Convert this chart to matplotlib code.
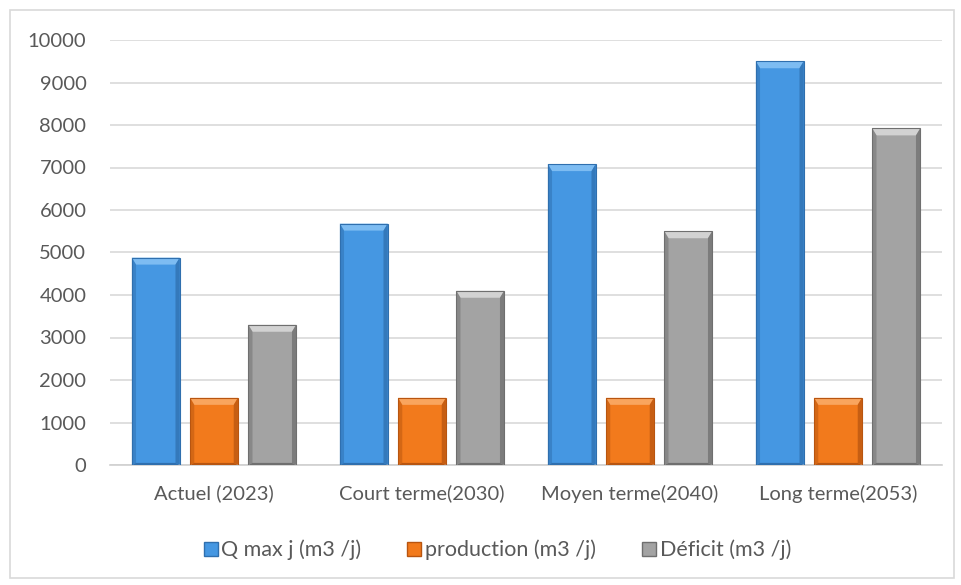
import numpy as np
import matplotlib
matplotlib.use("Agg")
import matplotlib.pyplot as plt
from matplotlib.patches import Polygon, Rectangle
from matplotlib.lines import Line2D

plt.rcParams['font.family'] = ['Lato', 'DejaVu Sans']

categories = ["Actuel (2023)", "Court terme(2030)", "Moyen terme(2040)", "Long terme(2053)"]
series_names = ["Q max j (m3 /j)", "production (m3 /j)", "Déficit (m3 /j)"]
q_max = [4880, 5680, 7080, 9500]
production = [1580, 1580, 1580, 1580]
deficit = [3300, 4100, 5500, 7920]

# face, light bevel, dark bevel
palette = [("#4597e2", "#7dbcf2", "#2f6fae"),
           ("#f27a1c", "#f9a55e", "#b85510"),
           ("#a3a3a3", "#d2d2d2", "#6f6f6f")]
TXT = "#595959"
FS = 14.5


def bevel(ax, bar, face, light, dark, px=7):
    # shaded rims around a bar, sized in pixels
    x0, y0 = bar.get_x(), bar.get_y()
    x1, y1 = x0 + bar.get_width(), y0 + bar.get_height()
    inv = ax.transData.inverted()
    p0 = ax.transData.transform((x0, y0))
    dx = inv.transform(p0 + [px, 0])[0] - x0
    dy = inv.transform(p0 + [0, px])[1] - y0
    dy = min(dy, (y1 - y0) / 3)
    ix0, ix1, iy0, iy1 = x0 + dx * 0.6, x1 - dx * 0.6, y0 + dy * 0.3, y1 - dy
    ax.add_patch(Polygon([(x0, y1), (x1, y1), (ix1, iy1), (ix0, iy1)], color=light, lw=0, zorder=3))
    ax.add_patch(Polygon([(x0, y0), (x0, y1), (ix0, iy1), (ix0, iy0)], color=dark, alpha=0.5, lw=0, zorder=3))
    ax.add_patch(Polygon([(x1, y0), (x1, y1), (ix1, iy1), (ix1, iy0)], color=dark, alpha=0.75, lw=0, zorder=3))
    ax.add_patch(Polygon([(x0, y0), (x1, y0), (ix1, iy0), (ix0, iy0)], color=dark, lw=0, zorder=3))
    ax.add_patch(Rectangle((x0, y0), x1 - x0, y1 - y0, fill=False, ec=dark, lw=0.8, zorder=4))


fig = plt.figure(figsize=(9.62, 5.85), dpi=100)
ax = fig.add_axes([110 / 962, 1 - 465 / 585, 832 / 962, 425 / 585])

x = np.arange(len(categories))
width = 0.23
step = 0.28
bars = []
for i, vals in enumerate([q_max, production, deficit]):
    face = palette[i][0]
    bars.append(ax.bar(x + (i - 1) * step, vals, width, color=face, zorder=2))

ax.set_xlim(-0.5, len(categories) - 0.5)
ax.set_ylim(0, 10000)
ax.set_yticks(np.arange(0, 10001, 1000))
ax.set_xticks(x)
ax.set_xticklabels(categories)
ax.yaxis.grid(True, color="#d9d9d9", lw=1.2, zorder=0)
ax.set_axisbelow(True)
for s in ["top", "right", "left"]:
    ax.spines[s].set_visible(False)
ax.spines["bottom"].set_color("#d0d0d0")
ax.spines["bottom"].set_linewidth(1.2)
ax.tick_params(length=0, labelsize=FS, colors=TXT)
ax.tick_params(axis="y", pad=17)
ax.tick_params(axis="x", pad=14)

for i, group in enumerate(bars):
    for b in group:
        bevel(ax, b, *palette[i])

# chart area border
fig.patches.append(Rectangle((10 / 962, 7 / 585), 944 / 962, 568 / 585, transform=fig.transFigure,
                             fill=False, ec="#d9d9d9", lw=1.2))

handles = [Line2D([], [], ls="", marker="s", ms=10, mfc=p[0], mec=p[2]) for p in palette]
fig.legend(handles, series_names, loc="center", bbox_to_anchor=(496 / 962, 1 - 550 / 585),
           ncol=3, frameon=False, fontsize=15.5, labelcolor=TXT, handletextpad=0.05,
           columnspacing=2.0, handlelength=0.9)

fig.savefig("out.png", dpi=100)
